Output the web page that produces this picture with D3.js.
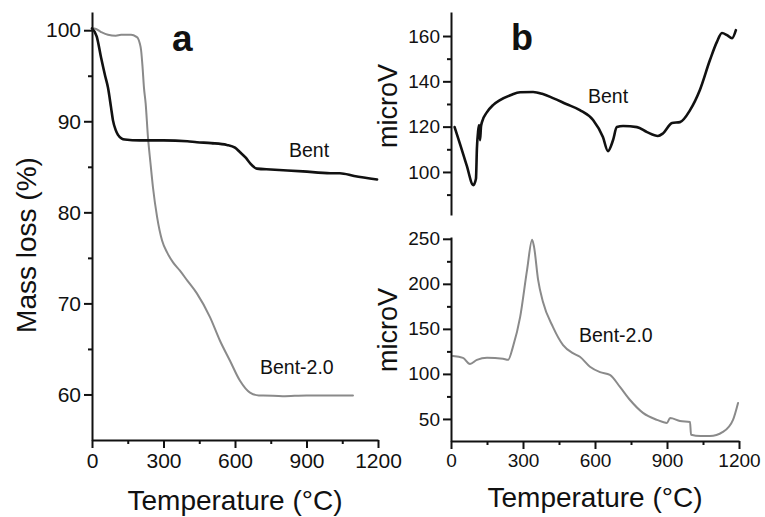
<!DOCTYPE html>
<html>
<head>
<meta charset="utf-8">
<script src="https://cdn.jsdelivr.net/npm/d3@7/dist/d3.min.js"></script>
<style>
  html, body { margin: 0; padding: 0; background: #fff; }
  svg { display: block; }
  text { font-family: "Liberation Sans", Arial, sans-serif; fill: #111; }
  .axis path, .axis line { stroke: #111; stroke-width: 2; }
  .axis text { font-family: "Liberation Sans", Arial, sans-serif; fill: #111; }
</style>
</head>
<body>
<svg id="chart" width="765" height="517"></svg>
<script>
// ---- (a) TG: mass loss vs temperature ----
const tgTempBent = [0, 20, 38, 55, 67, 80, 88, 100, 109, 125, 138, 200, 300, 400, 440, 500, 566, 600, 621, 645, 663, 692, 750, 885, 1000, 1040, 1100, 1196];
const tgMassBent = [100.2, 99.3, 97.0, 95.0, 93.7, 91.5, 90.1, 89.0, 88.5, 88.1, 88.0, 87.9, 87.9, 87.8, 87.7, 87.6, 87.4, 87.1, 86.6, 86.0, 85.4, 84.8, 84.7, 84.5, 84.3, 84.3, 84.0, 83.6];

const tgTempBent20 = [0, 10, 38, 67, 100, 122, 164, 185, 193, 200, 206, 212, 218, 225, 235, 245, 256, 273, 294, 315, 340, 369, 400, 440, 495, 537, 579, 621, 663, 700, 718, 800, 900, 1000, 1095];
const tgMassBent20 = [100.2, 100.2, 99.8, 99.5, 99.4, 99.5, 99.5, 99.3, 99.1, 98.6, 97.8, 96.0, 93.7, 92.0, 88.2, 85.5, 82.7, 79.5, 76.9, 75.6, 74.5, 73.6, 72.5, 71.1, 68.5, 65.9, 63.7, 61.5, 60.2, 59.9, 59.9, 59.8, 59.9, 59.9, 59.9];

// ---- (b) DTA signal vs temperature ----
const dtaTempBent = [15, 40, 65, 93, 104, 108, 113, 117, 121, 125, 129, 150, 175, 204, 250, 288, 342, 380, 425, 480, 537, 592, 633, 654, 675, 691, 717, 775, 817, 862, 883, 921, 954, 996, 1037, 1079, 1108, 1129, 1150, 1171, 1187];
const dtaVoltBent = [119.8, 111.5, 103, 94.2, 97, 110.5, 118, 120.7, 114, 120, 122, 126.4, 129.5, 131.7, 134, 135.2, 135.3, 134.5, 132.6, 130, 127.3, 122.9, 115.4, 109.2, 114, 119.8, 120.3, 119.8, 117.6, 115.9, 117, 121.6, 122, 127.3, 136.2, 149.4, 157.4, 161.3, 160.4, 159, 162.6];

const dtaTempBent20 = [8, 50, 79, 108, 150, 217, 238, 258, 288, 317, 338, 346, 363, 383, 425, 467, 508, 537, 579, 621, 662, 704, 746, 800, 858, 900, 913, 954, 996, 1000, 1040, 1079, 1133, 1175, 1196];
const dtaVoltBent20 = [120, 117.8, 111, 115.6, 118, 116.7, 115.6, 130, 163, 215.6, 249, 241, 204.4, 180, 152, 132, 123, 119, 108, 102, 99, 85.6, 71, 56.7, 49, 45.6, 51, 47.8, 46.7, 32.5, 31, 31, 35.6, 49, 67.8];

// tick values
const tempTicks = [0, 300, 600, 900, 1200];
const tempMinor = [150, 450, 750, 1050];
const massTicks = [60, 70, 80, 90, 100];
const massMinor = [65, 75, 85, 95];
const dtaTopTicks = [100, 120, 140, 160];
const dtaTopMinor = [90, 110, 130, 150];
const dtaBotTicks = [50, 100, 150, 200, 250];
const dtaBotMinor = [75, 125, 175, 225];

const svg = d3.select("#chart");
const zip = (xs, ys) => xs.map((x, i) => [x, ys[i]]);
const plain = d3.format("d");

function yAxis(g, scale, x0, ticks, minor, fs) {
  g.append("g").attr("class", "axis").attr("transform", `translate(${x0},0)`)
    .call(d3.axisLeft(scale).tickValues(minor).tickSize(4).tickSizeOuter(0).tickFormat(""))
    .call(a => a.select(".domain").remove());
  g.append("g").attr("class", "axis").attr("transform", `translate(${x0},0)`)
    .call(d3.axisLeft(scale).tickValues(ticks).tickSize(8).tickSizeOuter(0).tickPadding(3).tickFormat(plain))
    .call(a => a.selectAll("text").attr("font-size", fs));
}

function xAxis(g, scale, y, fs) {
  g.append("g").attr("class", "axis").attr("transform", `translate(0,${y})`)
    .call(d3.axisBottom(scale).tickValues(tempMinor).tickSize(4).tickSizeOuter(0).tickFormat(""))
    .call(a => a.select(".domain").remove());
  g.append("g").attr("class", "axis").attr("transform", `translate(0,${y})`)
    .call(d3.axisBottom(scale).tickValues(tempTicks).tickSize(8).tickSizeOuter(0).tickPadding(5).tickFormat(plain))
    .call(a => a.selectAll("text").attr("font-size", fs));
}

function curve(g, x, y, xs, ys, color, w) {
  const line = d3.line().x(d => x(d[0])).y(d => y(d[1])).curve(d3.curveMonotoneX);
  g.append("path").datum(zip(xs, ys))
    .attr("fill", "none").attr("stroke", color).attr("stroke-width", w)
    .attr("stroke-linejoin", "round").attr("stroke-linecap", "round")
    .attr("d", line);
}

// ---------- panel a ----------
const xa = d3.scaleLinear().domain([0, 1200]).range([92, 378]);
const ya = d3.scaleLinear().domain([55, 102]).range([440, 12]);
const ga = svg.append("g");
curve(ga, xa, ya, tgTempBent20, tgMassBent20, "#8a8a8a", 2);
curve(ga, xa, ya, tgTempBent, tgMassBent, "#111", 2.6);
yAxis(ga, ya, 92, massTicks, massMinor, 21);
xAxis(ga, xa, 440, 21);

ga.append("text").attr("x", 172).attr("y", 51).attr("font-size", 37).attr("font-weight", "bold").text("a");
ga.append("text").attr("x", 289).attr("y", 157).attr("font-size", 19.5).text("Bent");
ga.append("text").attr("x", 260).attr("y", 374).attr("font-size", 19.5).text("Bent-2.0");
ga.append("text").attr("transform", "translate(36,245) rotate(-90)")
  .attr("text-anchor", "middle").attr("font-size", 28).text("Mass loss (%)");
ga.append("text").attr("x", 235).attr("y", 510)
  .attr("text-anchor", "middle").attr("font-size", 28).text("Temperature (°C)");

// ---------- panel b, top ----------
const xb = d3.scaleLinear().domain([0, 1200]).range([451, 739]);
const ybTop = d3.scaleLinear().domain([81, 170.6]).range([215, 12]);
const gbt = svg.append("g");
curve(gbt, xb, ybTop, dtaTempBent, dtaVoltBent, "#111", 2.6);
yAxis(gbt, ybTop, 451, dtaTopTicks, dtaTopMinor, 19);
gbt.append("text").attr("x", 511).attr("y", 50).attr("font-size", 36).attr("font-weight", "bold").text("b");
gbt.append("text").attr("x", 588).attr("y", 103).attr("font-size", 19.5).text("Bent");
gbt.append("text").attr("transform", "translate(397,106) rotate(-90)")
  .attr("text-anchor", "middle").attr("font-size", 27).text("microV");

// ---------- panel b, bottom ----------
const ybBot = d3.scaleLinear().domain([25.5, 252]).range([441, 237]);
const gbb = svg.append("g");
curve(gbb, xb, ybBot, dtaTempBent20, dtaVoltBent20, "#8a8a8a", 2);
yAxis(gbb, ybBot, 451, dtaBotTicks, dtaBotMinor, 19);
xAxis(gbb, xb, 441, 19);
gbb.append("text").attr("x", 579).attr("y", 342).attr("font-size", 19.5).text("Bent-2.0");
gbb.append("text").attr("transform", "translate(397,330) rotate(-90)")
  .attr("text-anchor", "middle").attr("font-size", 27).text("microV");
gbb.append("text").attr("x", 595).attr("y", 507)
  .attr("text-anchor", "middle").attr("font-size", 28).text("Temperature (°C)");
</script>
</body>
</html>
